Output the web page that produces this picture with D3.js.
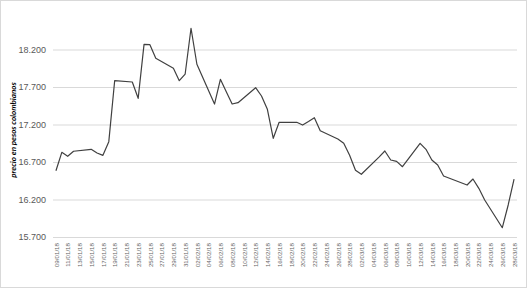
<!DOCTYPE html>
<html>
<head>
<meta charset="utf-8">
<script src="https://cdn.jsdelivr.net/npm/d3@7"></script>
<style>
  body { margin: 0; background: #fff; }
  svg { display: block; font-family: Lato, "Liberation Sans", sans-serif; }
</style>
</head>
<body>
<div id="chart"></div>
<script>

// trading days and price (pesos colombianos)
let dates = ["09/01/18", "10/01/18", "11/01/18", "12/01/18", "15/01/18", "16/01/18", "17/01/18", "18/01/18", "19/01/18",
  "22/01/18", "23/01/18", "24/01/18", "25/01/18", "26/01/18", "29/01/18", "30/01/18", "31/01/18", "01/02/18", "02/02/18",
  "05/02/18", "06/02/18", "07/02/18", "08/02/18", "09/02/18", "12/02/18", "13/02/18", "14/02/18", "15/02/18", "16/02/18",
  "19/02/18", "20/02/18", "21/02/18", "22/02/18", "23/02/18", "26/02/18", "27/02/18", "28/02/18", "01/03/18", "02/03/18",
  "05/03/18", "06/03/18", "07/03/18", "08/03/18", "09/03/18", "12/03/18", "13/03/18", "14/03/18", "15/03/18", "16/03/18",
  "20/03/18", "21/03/18", "22/03/18", "23/03/18", "26/03/18", "27/03/18", "28/03/18"]

let prices = [16584, 16829, 16776, 16843, 16869, 16820, 16789, 16971, 17784,
  17767, 17549, 18269, 18264, 18083, 17949, 17784, 17873, 18483, 18003,
  17473, 17803, 17637, 17473, 17491, 17691, 17580, 17403, 17016, 17229,
  17229, 17193, 17240, 17290, 17117, 17007, 16950, 16790, 16590, 16536,
  16765, 16847, 16727, 16709, 16637, 16949, 16869, 16727, 16660, 16513,
  16393, 16473, 16349, 16193, 15824, 16127, 16473]

let yTicks = [15700, 16200, 16700, 17200, 17700, 18200]

let xLabels = ["09/01/18", "11/01/18", "13/01/18", "15/01/18", "17/01/18", "19/01/18", "21/01/18", "23/01/18",
  "25/01/18", "27/01/18", "29/01/18", "31/01/18", "02/02/18", "04/02/18", "06/02/18", "08/02/18", "10/02/18",
  "12/02/18", "14/02/18", "16/02/18", "18/02/18", "20/02/18", "22/02/18", "24/02/18", "26/02/18", "28/02/18",
  "02/03/18", "04/03/18", "06/03/18", "08/03/18", "10/03/18", "12/03/18", "14/03/18", "16/03/18", "18/03/18",
  "20/03/18", "22/03/18", "24/03/18", "26/03/18", "28/03/18"]

let yTitle = "precio en pesos colombianos"

let W = 531, H = 289
let plot = { left: 53, right: 517, top: 12, bottom: 237 }

let parse = d3.timeParse("%d/%m/%y")
let data = dates.map((d, i) => ({ date: parse(d), price: prices[i] }))

let locale = d3.formatLocale({ decimal: ",", thousands: ".", grouping: [3], currency: ["$", ""] })
let fmt = locale.format(",.0f")

let svg = d3.select("#chart")
  .append("svg")
  .attr("width", W)
  .attr("height", H)

// chart border
svg.append("rect")
  .attr("x", 0.5)
  .attr("y", 0.5)
  .attr("width", 526)
  .attr("height", 287)
  .attr("fill", "#fff")
  .attr("stroke", "#d9d9d9")

// half a day of padding on each side, like a date axis
let x = d3.scaleTime()
  .domain([d3.timeHour.offset(parse(xLabels[0]), -12), d3.timeHour.offset(parse(xLabels[xLabels.length - 1]), 12)])
  .range([plot.left, plot.right])

let y = d3.scaleLinear()
  .domain([15700, 18700])
  .range([plot.bottom, plot.top])

let yAxis = svg.append("g")
  .attr("transform", "translate(" + plot.left + ",0)")
  .call(d3.axisLeft(y)
    .tickValues(yTicks)
    .tickSize(-(plot.right - plot.left))
    .tickPadding(7)
    .tickFormat(fmt))

yAxis.select(".domain").remove()
yAxis.selectAll(".tick line")
  .attr("stroke", "#d9d9d9")
  .attr("stroke-width", 1)
yAxis.selectAll(".tick text")
  .attr("fill", "#595959")
  .style("font-size", "9px")

let xAxis = svg.append("g")
  .attr("transform", "translate(0," + plot.bottom + ")")
  .call(d3.axisBottom(x)
    .tickValues(xLabels.map(parse))
    .tickSize(0)
    .tickFormat(d3.timeFormat("%d/%m/%y")))

xAxis.select(".domain").remove()
xAxis.selectAll(".tick text")
  .attr("transform", "rotate(-90)")
  .attr("x", -6)
  .attr("y", 0)
  .attr("dy", "0.35em")
  .style("text-anchor", "end")
  .style("font-size", "6.2px")
  .attr("fill", "#666")

svg.append("path")
  .datum(data)
  .attr("d", d3.line()
    .x((d) => { return x(d.date) })
    .y((d) => { return y(d.price) }))
  .attr("fill", "none")
  .attr("stroke", "#404040")
  .attr("stroke-width", 1.2)
  .attr("stroke-linejoin", "round")

svg.append("text")
  .attr("transform", "translate(16,130) rotate(-90)")
  .attr("text-anchor", "middle")
  .style("font-size", "8px")
  .style("font-weight", "bold")
  .style("font-style", "italic")
  .attr("fill", "#000")
  .text(yTitle)

</script>
</body>
</html>
